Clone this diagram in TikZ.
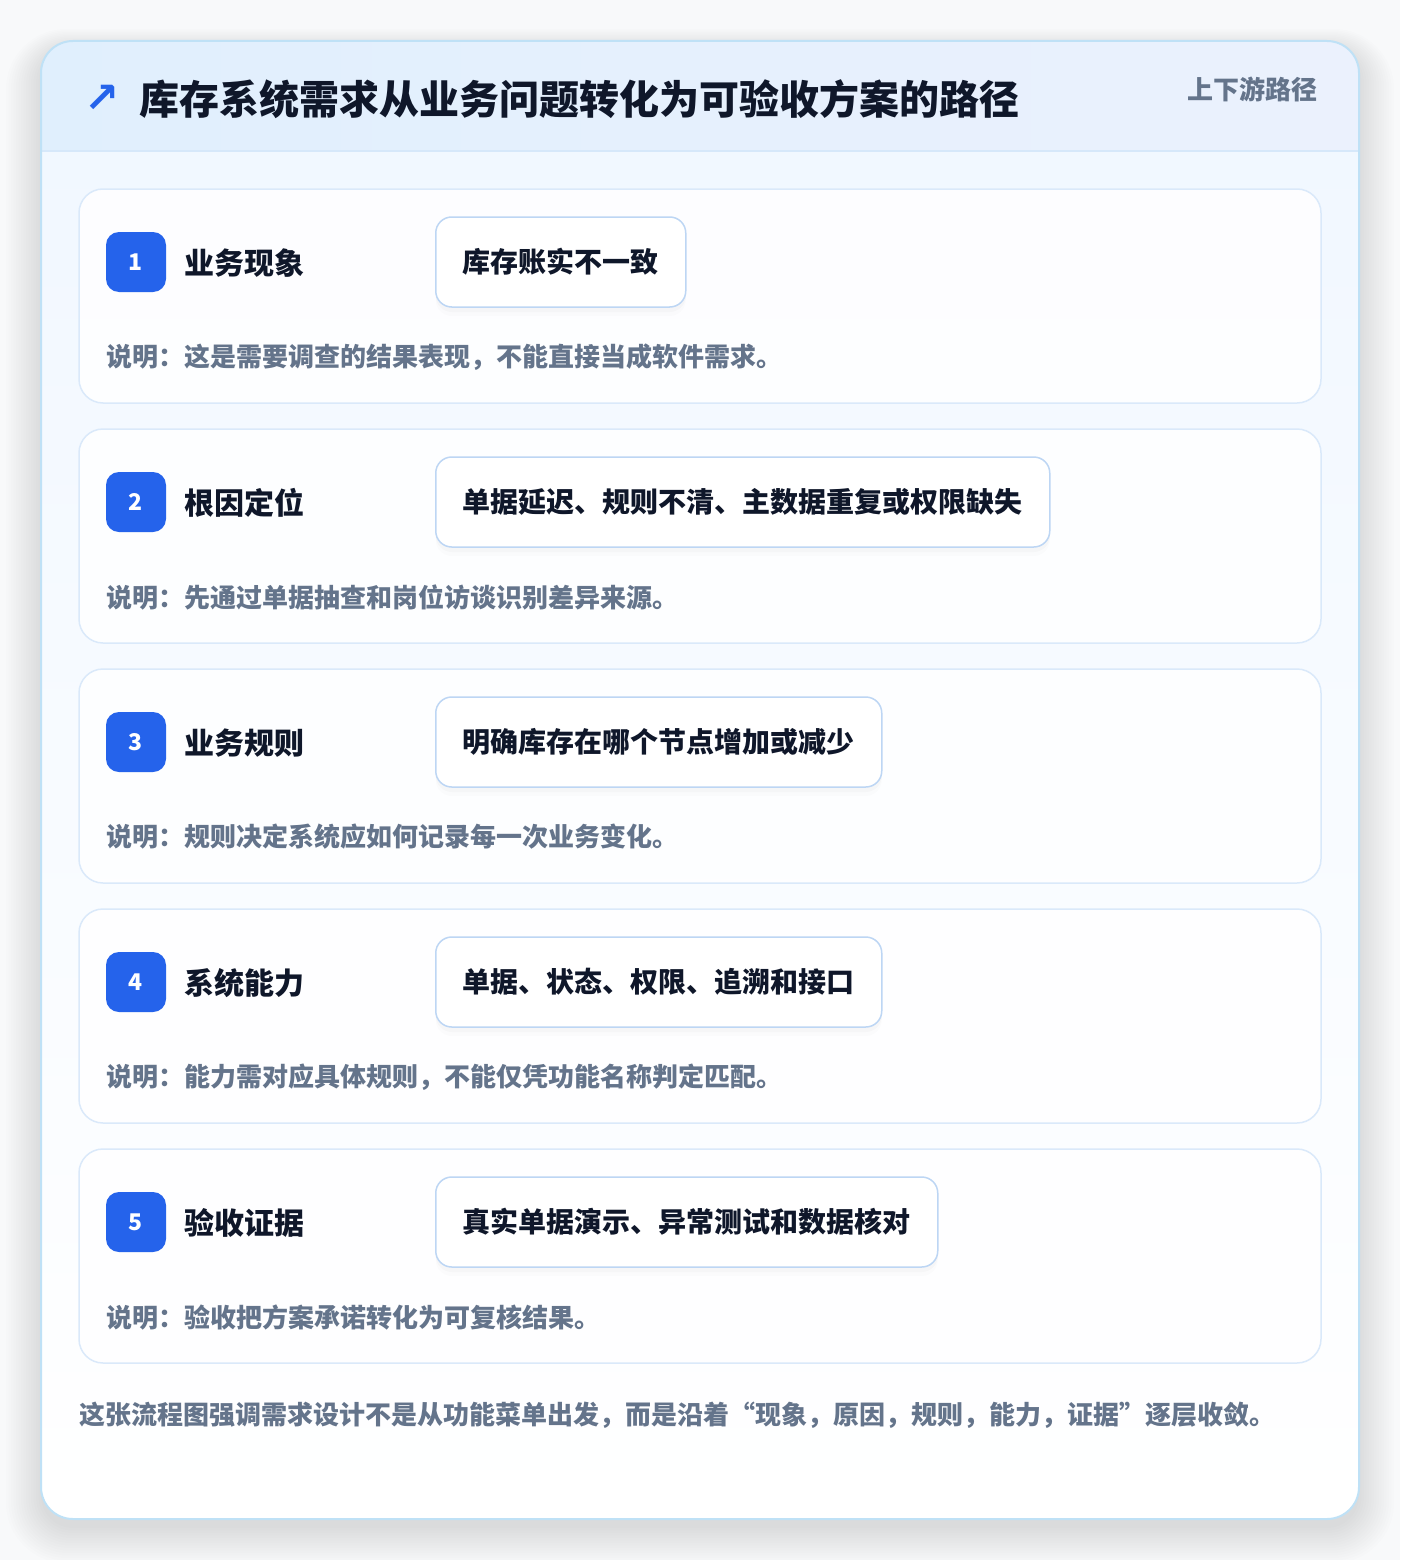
\documentclass[tikz,border=0pt]{standalone}
\usepackage{fontspec}
\setmainfont{Noto Sans CJK SC}
\newfontfamily\symfont{DejaVu Sans}
\usetikzlibrary{shadows}
\definecolor{pagebg}{HTML}{F8F9FA}
\definecolor{cardborder}{HTML}{BFE1F6}
\definecolor{hdrL}{HTML}{E0EFFD}
\definecolor{hdrR}{HTML}{EBF1FD}
\definecolor{hdrline}{HTML}{D6E8FA}
\definecolor{bodytop}{HTML}{F0F7FF}
\definecolor{innerborder}{HTML}{DAE9FA}
\definecolor{badgeblue}{HTML}{2563EB}
\definecolor{darktext}{HTML}{0F172A}
\definecolor{graytext}{HTML}{64748B}
\definecolor{pillborder}{HTML}{BDD6F4}
\tikzset{
  stepcard/.style={draw=innerborder, line width=1.5pt, fill=white, fill opacity=0.85, draw opacity=1, rounded corners=24pt, minimum width=1242pt, minimum height=214pt, inner sep=0pt},
  badge/.style={fill=badgeblue, rounded corners=13pt, minimum width=60pt, minimum height=60pt, inner sep=0pt, text=white, font=\fontsize{23}{26}\selectfont\bfseries},
  steplabel/.style={anchor=west, inner sep=0pt, text=darktext, font=\fontsize{30}{36}\selectfont\bfseries},
  pill/.style={anchor=west, draw=pillborder, line width=1.5pt, fill=white, rounded corners=16pt, minimum height=90pt, inner xsep=27pt, inner ysep=0pt, text=darktext, font=\fontsize{28}{34}\selectfont\bfseries,
    general shadow={fill=black, opacity=0.012, shadow yshift=-9pt},
    general shadow={fill=black, opacity=0.018, shadow yshift=-5pt}},
  notetext/.style={anchor=west, inner sep=0pt, text=graytext, font=\fontsize{26}{32}\selectfont\bfseries},
}
\begin{document}
\begin{tikzpicture}[x=1pt,y=-1pt]
\useasboundingbox (0,0) rectangle (1400,1560);
\fill[pagebg] (0,0) rectangle (1400,1560);
% outer shadow
\foreach \i in {0,...,14}{
  \fill[black, opacity=0.007, rounded corners={32pt+\i*2pt}] ({41-\i*2.5},{50-\i*1.5}) rectangle ({1359+\i*2.5},{1528+\i*2.5});
}
% outer card
\node[fill=white, rounded corners=32pt, minimum width=1318pt, minimum height=1478pt, inner sep=0pt, top color=bodytop, bottom color=white] (outer) at (700,780) {};
\begin{scope}
  \clip[rounded corners=32pt] (41,41) rectangle (1359,1519);
  \shade[left color=hdrL, right color=hdrR] (41,41) rectangle (1359,151);
\end{scope}
\coordinate (hl) at (41,151);
\coordinate (hr) at (1359,151);
\draw[hdrline, line width=1.5pt] (hl) -- (hr);
\draw[cardborder, line width=2pt, rounded corners=32pt] (41,41) rectangle (1359,1519);
% header
\node[anchor=center, inner sep=0pt, text=badgeblue, font=\symfont\bfseries\fontsize{42}{42}\selectfont] (icon) at (102,99) {↗};
\node[anchor=west, inner sep=0pt, text=darktext, font=\fontsize{40}{48}\selectfont\bfseries] (title) at (139,99) {库存系统需求从业务问题转化为可验收方案的路径};
\node[anchor=east, inner sep=0pt, text=graytext, font=\fontsize{26}{32}\selectfont\bfseries] (tag) at (1318,89) {上下游路径};
% step cards
\foreach \n/\y/\lab/\pilltext/\note in {
  1/296/业务现象/库存账实不一致/说明：这是需要调查的结果表现，不能直接当成软件需求。,
  2/536/根因定位/单据延迟、规则不清、主数据重复或权限缺失/说明：先通过单据抽查和岗位访谈识别差异来源。,
  3/776/业务规则/明确库存在哪个节点增加或减少/说明：规则决定系统应如何记录每一次业务变化。,
  4/1016/系统能力/单据、状态、权限、追溯和接口/说明：能力需对应具体规则，不能仅凭功能名称判定匹配。,
  5/1256/验收证据/真实单据演示、异常测试和数据核对/说明：验收把方案承诺转化为可复核结果。}{
  \node[stepcard] (card\n) at (700,\y) {};
  \node[badge] (badge\n) at (136,{\y-34}) {\n};
  \node[steplabel] (label\n) at (184,{\y-33}) {\lab};
  \node[pill] (pill\n) at (435,{\y-34}) {\pilltext};
  \node[notetext] (note\n) at (106,{\y+61}) {\note};
}
% footer
\node[notetext] (footer) at (79,1415) {这张流程图强调需求设计不是从功能菜单出发，而是沿着“现象，原因，规则，能力，证据”逐层收敛。};
\end{tikzpicture}
\end{document}
